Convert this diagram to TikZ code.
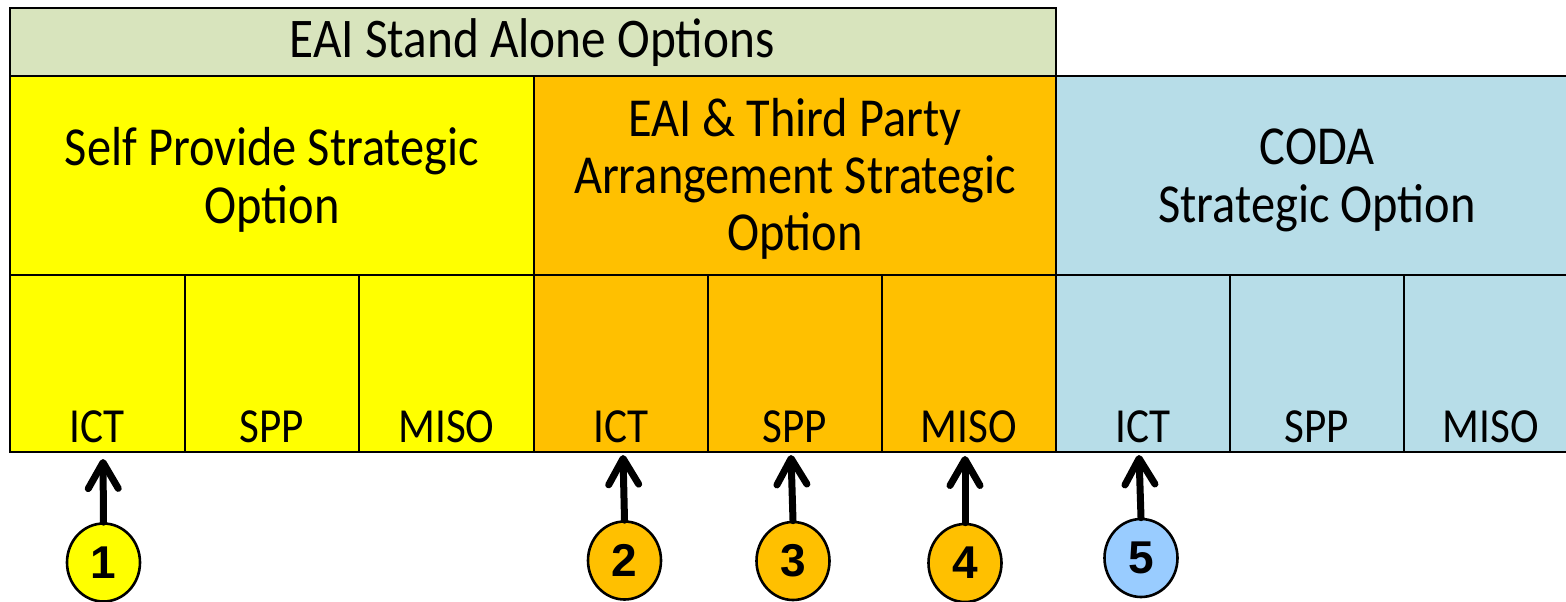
\documentclass[tikz,border=0pt]{standalone}
\usepackage{fontspec}
\setmainfont{Carlito}[FakeStretch=0.88]
\newfontfamily\numfont{Liberation Sans}
\usetikzlibrary{arrows.meta,shapes.geometric}
\definecolor{hdrgreen}{RGB}{216,228,189}
\definecolor{selfyel}{RGB}{255,255,0}
\definecolor{thirdorg}{RGB}{255,192,0}
\definecolor{codablue}{RGB}{183,221,232}
\definecolor{numblue}{RGB}{153,204,255}
\begin{document}
\begin{tikzpicture}[x=1pt,y=-1pt,
  thickline/.style={line width=2.2pt},
  midline/.style={line width=1.5pt},
  thinline/.style={line width=1.1pt},
  hdr/.style={font=\fontsize{56}{58}\selectfont, anchor=base, inner sep=0},
  lbl/.style={font=\fontsize{55}{58}\selectfont, anchor=base, inner sep=0},
  cell/.style={font=\fontsize{49}{52}\selectfont, anchor=base, inner sep=0},
  badge/.style={ellipse, draw, line width=2.6pt, minimum width=73pt, minimum height=78pt, inner sep=0,
    font=\numfont\bfseries\fontsize{46}{46}\selectfont},
  pointer/.style={line width=7pt, line cap=round, -{Straight Barb[length=26pt,width=30pt,round]}}
]
\useasboundingbox (0,0) rectangle (1566,602);
% fills
\fill[hdrgreen] (10,8) rectangle (1056,76);
\fill[selfyel] (10,76) rectangle (534,452);
\fill[thirdorg] (534,76) rectangle (1056,452);
\fill[codablue] (1056,76) rectangle (1566,452);
% grid lines
\draw[thickline] (10,76) -- (10,8) -- (1056,8) -- (1056,76);
\draw[thickline] (10,76) -- (1566,76);
\draw[thickline] (10,76) -- (10,452) -- (1566,452);
\draw[thickline] (534,76) -- (534,452);
\draw[thickline] (1056,76) -- (1056,452);
\draw[midline] (10,275) -- (1566,275);
\foreach \xx in {185,359,708,882,1230,1404}
  \draw[thinline] (\xx,275) -- (\xx,452);
% header
\node[hdr] (hdrtxt) at (532,58) {EAI Stand Alone Options};
% option titles
\node[lbl] (selfA) at (272,165) {Self Provide Strategic};
\node[lbl] (selfB) at (272,223) {Option};
\node[lbl] (thirdA) at (795,136) {EAI \& Third Party};
\node[lbl] (thirdB) at (795,193) {Arrangement Strategic};
\node[lbl] (thirdC) at (795,250) {Option};
\node[lbl] (codaA) at (1317,164) {CODA};
\node[lbl] (codaB) at (1317,222) {Strategic Option};
% cells
\node[cell] (c1) at (97.5,442) {ICT};
\node[cell] (c2) at (272,442) {SPP};
\node[cell] (c3) at (446.5,442) {MISO};
\node[cell] (c4) at (621,442) {ICT};
\node[cell] (c5) at (795,442) {SPP};
\node[cell] (c6) at (969,442) {MISO};
\node[cell] (c7) at (1143,442) {ICT};
\node[cell] (c8) at (1317,442) {SPP};
\node[cell] (c9) at (1491,442) {MISO};
% badges
\node[badge, fill=selfyel] (n1) at (103.5,562.5) {1};
\node[badge, fill=thirdorg] (n2) at (624.5,560.5) {2};
\node[badge, fill=thirdorg] (n3) at (793,561) {3};
\node[badge, fill=thirdorg] (n4) at (965,563) {4};
\node[badge, fill=numblue] (n5) at (1141,558) {5};
% arrow ends
\coordinate (t1) at (103,459);
\coordinate (t2) at (623,455);
\coordinate (t3) at (791,455);
\coordinate (t4) at (965,456);
\coordinate (t5) at (1139,455);
\draw[pointer] (n1.north) -- (t1);
\draw[pointer] (n2.north) -- (t2);
\draw[pointer] (n3.north) -- (t3);
\draw[pointer] (n4.north) -- (t4);
\draw[pointer] (n5.north) -- (t5);
\end{tikzpicture}
\end{document}
